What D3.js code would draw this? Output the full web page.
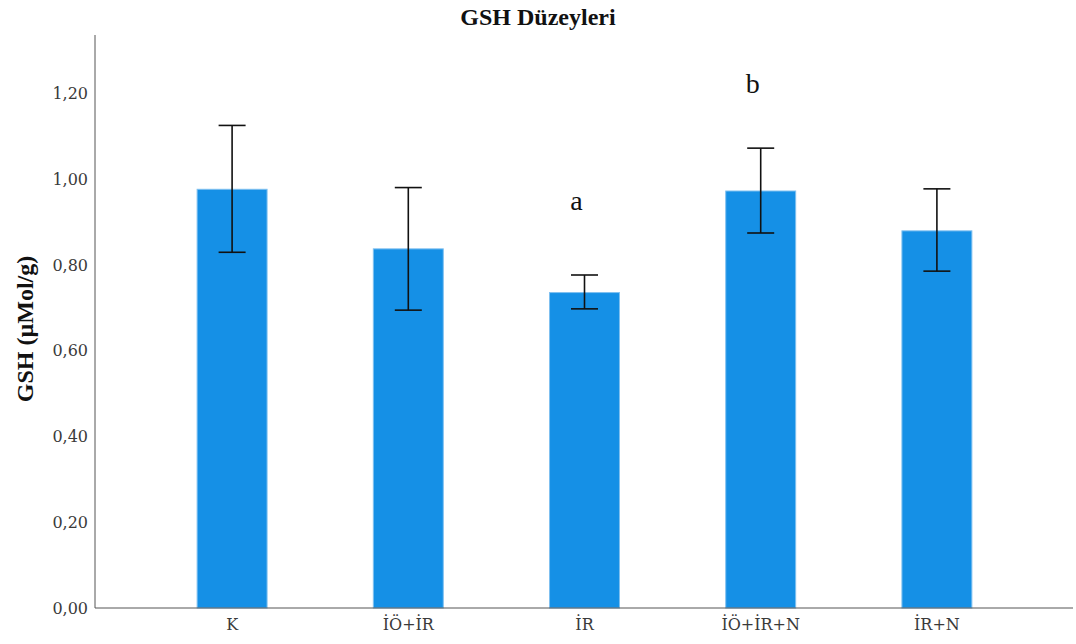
<!DOCTYPE html>
<html>
<head>
<meta charset="utf-8">
<script src="https://cdn.jsdelivr.net/npm/d3@7"></script>
<style>
  body { margin: 0; background: #fff; }
  svg { display: block; }
</style>
</head>
<body>
<svg id="chart" width="1076" height="644"></svg>
<script>
// Group labels, means and error-bar limits for GSH levels
const groups = ["K", "İÖ+İR", "İR", "İÖ+İR+N", "İR+N"];
const means  = [0.977, 0.838, 0.736, 0.973, 0.880];
const upper  = [1.126, 0.981, 0.777, 1.073, 0.978];
const lower  = [0.830, 0.695, 0.698, 0.875, 0.786];
const letters = [
  { group: "İR", text: "a", value: 0.928 },
  { group: "İÖ+İR+N", text: "b", value: 1.202 }
];
const yTicks = [0, 0.2, 0.4, 0.6, 0.8, 1.0, 1.2];

const svg = d3.select("#chart");
const serif = "'Liberation Serif', 'Times New Roman', serif";
const tickFont = "'DejaVu Serif', serif";

const x = d3.scaleBand()
  .domain(groups)
  .range([144, 1025])
  .paddingInner(0.603)
  .paddingOuter(0.3015);

const y = d3.scaleLinear()
  .domain([0, 1.337])
  .range([608, 35]);

// Title
svg.append("text")
  .attr("x", 538).attr("y", 25)
  .attr("text-anchor", "middle")
  .style("font-family", serif)
  .style("font-weight", "bold")
  .style("font-size", "24px")
  .attr("fill", "#111")
  .text("GSH Düzeyleri");

// Y axis title
svg.append("text")
  .attr("transform", "translate(33,329) rotate(-90)")
  .attr("text-anchor", "middle")
  .style("font-family", serif)
  .style("font-weight", "bold")
  .style("font-size", "24px")
  .attr("fill", "#111")
  .text("GSH (µMol/g)");

// Y axis: line only, labels without tick marks
const yAxis = svg.append("g")
  .attr("transform", "translate(95,0)")
  .call(d3.axisLeft(y).tickValues(yTicks).tickSize(0).tickPadding(7)
    .tickFormat(d => d3.format(".2f")(d).replace(".", ",")));
yAxis.select(".domain").attr("stroke", "#555").attr("d", `M0,${y(1.337)}V${y(0)}`);
yAxis.selectAll("text")
  .style("font-family", tickFont)
  .style("font-size", "16px")
  .attr("fill", "#3a3a3a");

// Bars
svg.append("g").selectAll("rect")
  .data(groups)
  .join("rect")
  .attr("x", d => x(d))
  .attr("width", x.bandwidth())
  .attr("y", (d, i) => y(means[i]))
  .attr("height", (d, i) => y(0) - y(means[i]))
  .attr("fill", "#1590e6")
  .attr("stroke", "#7fc0f0")
  .attr("stroke-width", 1);

// X axis
const xAxis = svg.append("g")
  .attr("transform", `translate(0,${y(0)})`)
  .call(d3.axisBottom(x).tickSize(0).tickPadding(11));
xAxis.select(".domain").attr("stroke", "#555").attr("d", "M95,0H1073");
xAxis.selectAll("text")
  .style("font-family", tickFont)
  .style("font-size", "16px")
  .attr("fill", "#3a3a3a");

// Error bars
const capHalf = 13.5;
const eb = svg.append("g").attr("stroke", "#111").attr("stroke-width", 1.6).attr("fill", "none");
groups.forEach((g, i) => {
  const cx = x(g) + x.bandwidth() / 2;
  eb.append("line").attr("x1", cx).attr("x2", cx).attr("y1", y(upper[i])).attr("y2", y(lower[i]));
  eb.append("line").attr("x1", cx - capHalf).attr("x2", cx + capHalf).attr("y1", y(upper[i])).attr("y2", y(upper[i]));
  eb.append("line").attr("x1", cx - capHalf).attr("x2", cx + capHalf).attr("y1", y(lower[i])).attr("y2", y(lower[i]));
});

// Significance letters
svg.append("g").selectAll("text")
  .data(letters)
  .join("text")
  .attr("x", d => x(d.group) + x.bandwidth() / 2 - 8)
  .attr("y", d => y(d.value))
  .attr("text-anchor", "middle")
  .style("font-family", serif)
  .style("font-size", "28px")
  .attr("fill", "#111")
  .text(d => d.text);
</script>
</body>
</html>
